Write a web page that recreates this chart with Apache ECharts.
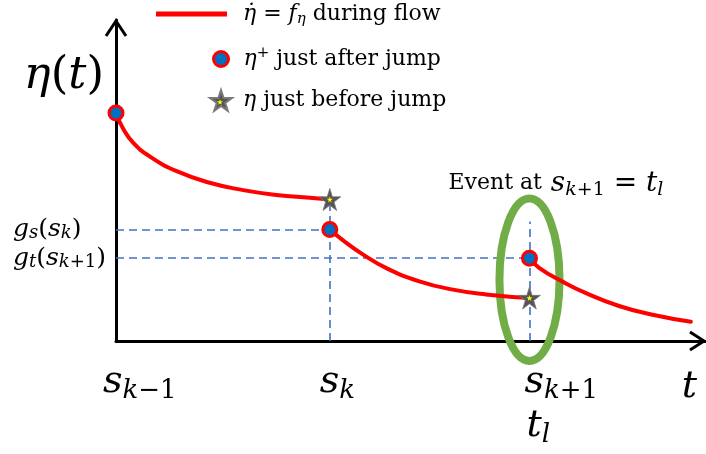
<!DOCTYPE html>
<html>
<head>
<meta charset="utf-8">
<title>η(t) between jumps</title>
<script src="https://cdn.jsdelivr.net/npm/echarts@6/dist/echarts.min.js"></script>
<style>
  html, body { margin: 0; padding: 0; background: #ffffff; }
  #chart { width: 706px; height: 454px; }
</style>
</head>
<body>
<div id="chart"></div>
<script>
// η(t) while flowing between jumps, sampled as (t, η)
const flowSeg1 = [[0, 7.1], [0.12, 6.62], [0.29, 6.18], [0.58, 5.74], [1.03, 5.29], [1.59, 4.93], [2.16, 4.70], [2.72, 4.55], [3.29, 4.46], [3.63, 4.41]];
const flowSeg2 = [[3.63, 3.47], [3.85, 3.14], [4.19, 2.70], [4.59, 2.27], [5.15, 1.86], [5.72, 1.60], [6.28, 1.45], [7.02, 1.34]];
const flowSeg3 = [[7.02, 2.58], [7.19, 2.27], [7.58, 1.85], [7.98, 1.49], [8.54, 1.09], [9.11, 0.82], [9.76, 0.60]];
// η⁺ right after each jump, and η right before it
const afterJump = [[0, 7.1], [3.63, 3.47], [7.02, 2.58]];
const beforeJump = [[3.63, 4.41], [7.02, 1.34]];
// jump instants on the t axis and their labels
const jumpTimes = [0, 3.63, 7.02];
const jumpLabels = ['s_{k−1}', 's_k', 's_{k+1}\nt_l'];
// reset levels on the η axis and their labels
const resetLevels = [afterJump[1][1], afterJump[2][1]];
const resetLabels = ['g_s(s_k)', 'g_t(s_{k+1})'];
// the dashed guide at the event instant stops here
const eventGuideTop = 3.72;
// region circled around the event: [tMin, tMax, ηMin, ηMax]
const eventRegion = [[6.51, 7.53, -0.62, 4.44]];
const eventText = ['Event at', ' s_{k+1} = t_l'];
// axis titles
const axisTitles = { t: 't', eta: 'η(t)' };
// legend entries: math part, words part
const legendMath = ['η\u0307 = f_η', 'η^+', 'η'];
const legendWords = [' during flow', ' just after jump', ' just before jump'];

const MATH_FONT = "'DejaVu Serif', 'Liberation Serif', serif";
const TEXT_FONT = "'DejaVu Serif', 'Liberation Serif', serif";
const STAR = 'path://M50,0 L61.2,34.5 L97.6,34.5 L68.2,55.9 L79.4,90.5 L50,69.1 L20.6,90.5 L31.8,55.9 L2.4,34.5 L38.8,34.5 Z';

// Turn a small TeX-like string (x_{ab}, x^+) into ECharts rich text tokens.
function isLetter(ch) { return /[A-Za-z\u0370-\u03FF]/.test(ch); }
function isMark(ch) { return /[\u0300-\u036F]/.test(ch); }
function mathRich(src, p) {
  const runs = [];
  const push = (ch, level) => {
    const last = runs[runs.length - 1];
    if (isMark(ch) && last && !last.nl) { last.text += ch; return; }
    const italic = isLetter(ch);
    if (last && !last.nl && last.level === level && last.italic === italic) last.text += ch;
    else runs.push({ level: level, italic: italic, text: ch });
  };
  const chars = Array.from(src);
  let i = 0;
  while (i < chars.length) {
    const ch = chars[i];
    if (ch === '_' || ch === '^') {
      const level = ch === '_' ? 'b' : 'p';
      if (chars[i + 1] === '{') {
        let j = i + 2;
        while (j < chars.length && chars[j] !== '}') { push(chars[j], level); j++; }
        i = j + 1;
      } else { push(chars[i + 1], level); i += 2; }
    } else if (ch === '\n') { runs.push({ nl: true }); i++; }
    else { push(ch, 'm'); i++; }
  }
  return runs.map(r => r.nl ? '\n' : '{' + p + r.level + (r.italic ? 'i' : 'u') + '|' + r.text + '}').join('');
}
function mathStyles(p, size, subSize, lh, subLh, extra) {
  const s = {};
  const add = (name, fs, italic, h, va) => {
    s[p + name] = Object.assign({
      fontFamily: MATH_FONT, color: '#000', fontSize: fs,
      fontStyle: italic ? 'italic' : 'normal', lineHeight: h, verticalAlign: va
    }, extra || {});
  };
  add('mi', size, true, lh, 'middle');
  add('mu', size, false, lh, 'middle');
  add('bi', subSize, true, subLh, 'bottom');
  add('bu', subSize, false, subLh, 'bottom');
  add('pi', subSize, true, subLh, 'top');
  add('pu', subSize, false, subLh, 'top');
  return s;
}

// rich style sets
const tickRich = Object.assign(mathStyles('x', 38, 26, 44, 22, { align: 'left' }), {
  g3: { width: 3, align: 'left' }, g8: { width: 8, align: 'left' }, g10: { width: 10, align: 'left' }
});
const levelRich = mathStyles('y', 25, 18, 26, 10);
const nameRich = mathStyles('n', 45, 30, 46, 18);
const tRich = mathStyles('t', 38, 26, 40, 18);
const legendRich = Object.assign(mathStyles('l', 22, 15, 26, 12), {
  lw: { fontFamily: TEXT_FONT, fontSize: 22, lineHeight: 26, color: '#000', verticalAlign: 'middle' }
});
const eventRich = Object.assign(mathStyles('e', 28, 19, 32, 14), {
  ew: { fontFamily: TEXT_FONT, fontSize: 22, lineHeight: 32, color: '#000', verticalAlign: 'middle' }
});

// small left nudges of each tick label line, in px
const tickNudge = [[''], ['g3'], ['g8', 'g10']];

const legendText = legendMath.map((m, k) => mathRich(m, 'l') + '{lw|' + legendWords[k] + '}');

const chart = echarts.init(document.getElementById('chart'), null, { renderer: 'canvas' });

const option = {
  animation: false,
  backgroundColor: '#ffffff',
  grid: { left: 116, right: 1, top: 20, bottom: 113, containLabel: false },
  xAxis: {
    type: 'value', min: 0, max: 10,
    axisLine: { show: true, lineStyle: { color: '#000', width: 3 } },
    axisTick: { show: false },
    splitLine: { show: false },
    axisLabel: {
      customValues: jumpTimes,
      margin: 19,
      align: 'center',
      width: 26,
      overflow: 'none',
      formatter: (v) => {
        const k = jumpTimes.indexOf(v);
        if (k < 0) return '';
        return jumpLabels[k].split('\n').map((ln, li) => {
          const g = tickNudge[k][li];
          return (g ? '{' + g + '| }' : '') + mathRich(ln, 'x');
        }).join('\n');
      },
      rich: tickRich
    },
    name: mathRich(axisTitles.t, 't'),
    nameLocation: 'end',
    nameGap: -8,
    nameTextStyle: { align: 'right', verticalAlign: 'top', padding: [26, 0, 0, 0], rich: tRich }
  },
  yAxis: {
    type: 'value', min: 0, max: 10,
    axisLine: { show: true, lineStyle: { color: '#000', width: 3 } },
    axisTick: { show: false },
    splitLine: { show: false },
    axisLabel: {
      customValues: resetLevels,
      margin: 103,
      align: 'left',
      formatter: (v) => {
        const k = resetLevels.indexOf(v);
        return k < 0 ? '' : mathRich(resetLabels[k], 'y');
      },
      rich: levelRich
    },
    name: mathRich(axisTitles.eta, 'n'),
    nameLocation: 'end',
    nameGap: -56,
    nameTextStyle: { align: 'right', verticalAlign: 'middle', padding: [0, 12, 0, 0], rich: nameRich }
  },
  legend: [
    {
      data: [{ name: 'flow', icon: 'rect' }], left: 156, top: 3, padding: 0,
      itemWidth: 71, itemHeight: 5, selectedMode: false,
      formatter: () => legendText[0],
      textStyle: { padding: [0, 0, 0, 11], rich: legendRich }
    },
    {
      data: ['after'], left: 212, top: 46, padding: 0,
      itemWidth: 15, itemHeight: 15, selectedMode: false,
      itemStyle: { borderWidth: 3, borderColor: '#FF0000' },
      formatter: () => legendText[1],
      textStyle: { padding: [0, 0, 0, 10], rich: legendRich }
    },
    {
      data: ['before'], left: 209, top: 89, padding: 0,
      itemWidth: 22, itemHeight: 22, selectedMode: false,
      formatter: () => legendText[2],
      textStyle: { padding: [0, 0, 0, 6], rich: legendRich }
    },
    {
      data: ['beforeCore'], left: 217, top: 99, padding: 0,
      itemWidth: 6, itemHeight: 6, selectedMode: false,
      formatter: () => '',
      textStyle: { fontSize: 1 }
    }
  ],
  series: [
    {
      // dashed guides from the axes to the jump points
      name: 'guides', type: 'line', data: [], z: 1,
      markLine: {
        silent: true, z: 1,
        symbol: ['none', 'none'],
        label: { show: false },
        lineStyle: { color: '#4472C4', width: 1.6, type: [8, 5] },
        data: [
          [{ coord: [0, resetLevels[0]] }, { coord: [jumpTimes[1], resetLevels[0]] }],
          [{ coord: [0, resetLevels[1]] }, { coord: [jumpTimes[2], resetLevels[1]] }],
          [{ coord: [jumpTimes[1], 0] }, { coord: [jumpTimes[1], beforeJump[0][1]] }],
          [{ coord: [jumpTimes[2], 0] }, { coord: [jumpTimes[2], eventGuideTop] }]
        ]
      }
    },
    {
      // event region ring with its caption
      name: 'event', type: 'custom', z: 6, clip: false, silent: true,
      encode: { x: [0, 1], y: [2, 3] },
      data: eventRegion,
      renderItem: (params, api) => {
        const a = api.coord([api.value(0), api.value(2)]);
        const b = api.coord([api.value(1), api.value(3)]);
        const cx = (a[0] + b[0]) / 2, cy = (a[1] + b[1]) / 2;
        const rx = Math.abs(b[0] - a[0]) / 2, ry = Math.abs(b[1] - a[1]) / 2;
        return {
          type: 'group',
          children: [
            { type: 'ellipse', shape: { cx: cx, cy: cy, rx: rx, ry: ry },
              style: { fill: 'none', stroke: '#70AD47', lineWidth: 8 } },
            { type: 'text', x: cx - 81, y: cy - ry + 1,
              style: { text: '{ew|' + eventText[0] + '}' + mathRich(eventText[1], 'e'),
                       rich: eventRich, align: 'left', verticalAlign: 'bottom' } }
          ]
        };
      }
    },
    ...[flowSeg1, flowSeg2, flowSeg3].map(seg => ({
      name: 'flow', type: 'line', data: seg, z: 7,
      smooth: 0.5, showSymbol: false, symbol: 'none',
      itemStyle: { color: '#FF0000' },
      lineStyle: { color: '#FF0000', width: 4, cap: 'round', join: 'round' }
    })),
    {
      name: 'after', type: 'scatter', data: afterJump, z: 9,
      symbol: 'circle', symbolSize: 14,
      itemStyle: { color: '#0070C0', borderColor: '#FF0000', borderWidth: 3, opacity: 1 }
    },
    {
      name: 'before', type: 'scatter', data: beforeJump, z: 9,
      symbol: STAR, symbolSize: 22,
      itemStyle: { color: '#555555', borderColor: '#7a7a7a', borderWidth: 0.8, opacity: 1 }
    },
    {
      name: 'beforeCore', type: 'scatter', data: beforeJump, z: 10,
      symbol: STAR, symbolSize: 6,
      itemStyle: { color: '#FFFF00', opacity: 1 }
    }
  ]
};
chart.setOption(option);

// open chevron arrowheads at the far ends of both axes
const tEnd = chart.convertToPixel({ gridIndex: 0 }, [10, 0]);
const etaEnd = chart.convertToPixel({ gridIndex: 0 }, [0, 10]);
chart.setOption({
  graphic: [
    { type: 'polyline', z: 20,
      shape: { points: [[tEnd[0] - 15, tEnd[1] - 9], [tEnd[0] - 1, tEnd[1]], [tEnd[0] - 15, tEnd[1] + 9]] },
      style: { stroke: '#000', lineWidth: 3, fill: null, lineJoin: 'miter' } },
    { type: 'polyline', z: 20,
      shape: { points: [[etaEnd[0] - 10, etaEnd[1] + 16], [etaEnd[0], etaEnd[1] + 1], [etaEnd[0] + 10, etaEnd[1] + 16]] },
      style: { stroke: '#000', lineWidth: 3, fill: null, lineJoin: 'miter' } }
  ]
});
</script>
</body>
</html>
